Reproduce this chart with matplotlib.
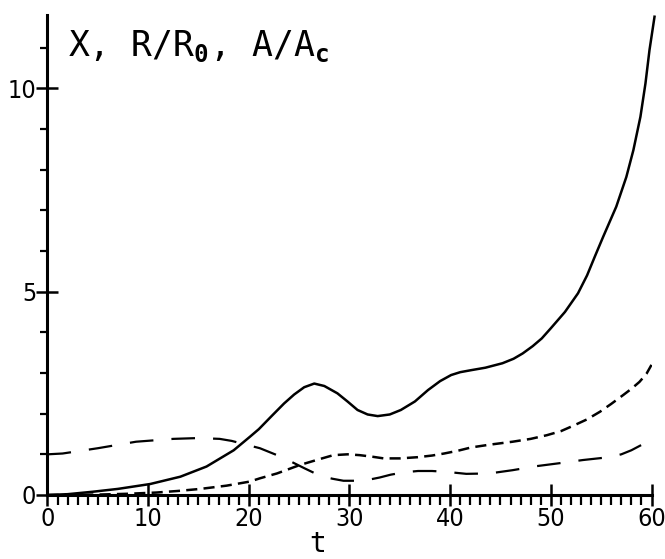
import matplotlib
matplotlib.use("Agg")
import matplotlib.pyplot as plt
from matplotlib import font_manager
from matplotlib.ticker import MultipleLocator, FixedLocator

# solid curve: X
t_x = [0, 2, 4.5, 7, 10.2, 13.2, 15.8, 18.5, 20.1, 21, 22.3, 23.5, 24.5, 25.5, 26.5,
       27.5, 28.8, 29.8, 30.8, 31.8, 32.8, 34, 35.1, 36.5, 37.8, 39, 40.1, 41, 42.1,
       43.5, 45.2, 46.3, 47.2, 48.2, 49.1, 50, 51.4, 52.7, 53.6, 54.4, 55.2, 56.5,
       57.5, 58.2, 58.9, 59.4, 59.8, 60.3]
x_val = [0, 0.02, 0.08, 0.15, 0.27, 0.45, 0.7, 1.1, 1.43, 1.62, 1.95, 2.25, 2.47, 2.65,
         2.74, 2.68, 2.5, 2.3, 2.09, 1.98, 1.94, 1.98, 2.09, 2.3, 2.58, 2.8, 2.95, 3.02,
         3.07, 3.13, 3.24, 3.35, 3.48, 3.66, 3.85, 4.1, 4.5, 4.96, 5.4, 5.88, 6.35,
         7.09, 7.82, 8.48, 9.3, 10.12, 10.94, 11.76]

# short-dashed curve
t_s = [0, 5, 8, 10.8, 13, 15.2, 17.8, 20.1, 21.1, 22.8, 25.1, 27, 28.4, 29.8, 31,
       32.3, 33.4, 35, 36.8, 38.2, 39.4, 40.8, 42.1, 44, 46.2, 48, 49.6, 51, 52.2,
       53.6, 54.9, 56, 57.2, 58, 58.8, 59.5, 60]
s_val = [0, 0.01, 0.03, 0.06, 0.1, 0.15, 0.23, 0.33, 0.41, 0.53, 0.74, 0.88, 0.98, 1.0,
         0.98, 0.94, 0.9, 0.9, 0.93, 0.97, 1.02, 1.09, 1.17, 1.24, 1.31, 1.38, 1.47,
         1.57, 1.7, 1.86, 2.05, 2.24, 2.46, 2.61, 2.78, 2.98, 3.2]

# long-dashed curve
t_l = [0, 1.5, 5, 8.8, 12.5, 15, 17.1, 18.3, 20, 21.1, 22.8, 24.2, 25.5, 27.1, 28.3,
       29.4, 30.6, 31.8, 33, 34.1, 35.5, 36.8, 38.2, 39.6, 41.6, 43.9, 46.2, 48.6,
       50.8, 53.2, 55.8, 57, 58, 59, 60]
l_val = [1.0, 1.02, 1.15, 1.31, 1.38, 1.4, 1.38, 1.33, 1.22, 1.15, 0.98, 0.82, 0.66,
         0.47, 0.4, 0.35, 0.35, 0.37, 0.43, 0.5, 0.56, 0.59, 0.59, 0.57, 0.52, 0.53,
         0.61, 0.71, 0.78, 0.86, 0.93, 1.0, 1.1, 1.23, 1.38]

plt.rcParams['font.family'] = 'DejaVu Sans Mono'
plt.rcParams['mathtext.fontset'] = 'custom'
plt.rcParams['mathtext.rm'] = 'DejaVu Sans Mono'
plt.rcParams['mathtext.bf'] = 'DejaVu Sans Mono:bold'
plt.rcParams['lines.scale_dashes'] = False

# look for a narrow font for the tick numbers, else the mono one a bit smaller
narrow = [f.fname for f in font_manager.fontManager.ttflist
          if ('Condensed' in f.fname or 'Narrow' in f.fname)
          and f.weight in (400, 'normal', 'regular') and f.style == 'normal']
narrow.sort()
if narrow:
    tick_prop = font_manager.FontProperties(fname=narrow[0], size=18)
else:
    tick_prop = font_manager.FontProperties(family='DejaVu Sans Mono', size=17)

fig = plt.figure(figsize=(6.65, 5.59), dpi=100)
ax = fig.add_axes([0.0714, 0.1145, 0.9083, 0.8585])

ax.plot(t_x, x_val, color='black', lw=1.8, clip_on=False)
ax.plot(t_s, s_val, color='black', lw=1.8, dashes=(8, 4.5))
ax.plot(t_l, l_val, color='black', lw=1.6, dashes=(17, 13))

ax.set_xlim(0, 60)
ax.set_ylim(0, 11.8)

for side in ['top', 'right']:
    ax.spines[side].set_visible(False)
for side in ['left', 'bottom']:
    ax.spines[side].set_linewidth(2.2)

ax.xaxis.set_major_locator(MultipleLocator(10))
ax.xaxis.set_minor_locator(MultipleLocator(1))
ax.yaxis.set_major_locator(FixedLocator([0, 5, 10]))
ax.yaxis.set_minor_locator(MultipleLocator(1))

ax.tick_params(axis='x', which='major', direction='inout', length=16, width=1.8, pad=1)
ax.tick_params(axis='x', which='minor', direction='out', length=7, width=1.6)
ax.tick_params(axis='y', which='major', direction='inout', length=16, width=1.8, pad=0)
ax.tick_params(axis='y', which='minor', direction='out', length=5, width=1.6)
for lab in ax.get_xticklabels() + ax.get_yticklabels():
    lab.set_fontproperties(tick_prop)

ax.text(2.0, 10.8, r'X, R/R$_\mathbf{0}$, A/A$_\mathbf{c}$', fontsize=25,
        va='baseline', ha='left')
fig.text(318 / 665, 0.012, 't', fontsize=20, ha='center', va='baseline')

fig.savefig('out.png', dpi=100)
